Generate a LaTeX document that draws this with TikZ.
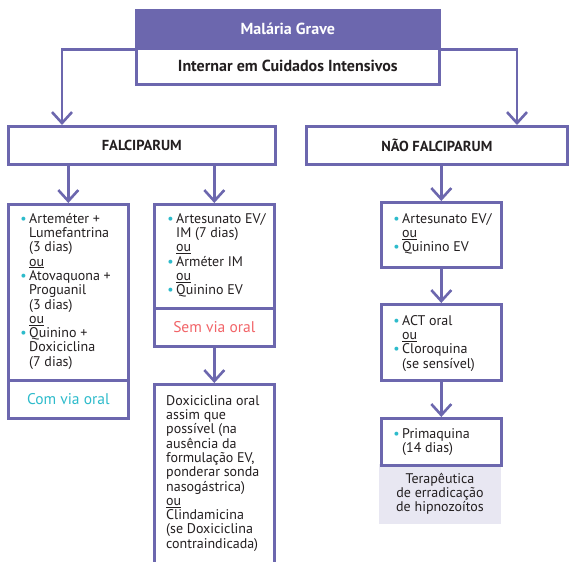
\documentclass[tikz,border=0pt]{standalone}
\usepackage{fontspec}
\setmainfont{PT Sans}
\usetikzlibrary{arrows.meta}

\definecolor{flowpurple}{HTML}{6C67AE}
\definecolor{flowteal}{HTML}{2DBBCB}
\definecolor{flowred}{HTML}{F26468}
\definecolor{flowink}{HTML}{231F20}
\definecolor{flowmist}{HTML}{E8E7F2}

% teal bullet hanging to the left of an item
\newcommand\itembul{\llap{\textcolor{flowteal}{\textbullet}\hspace{2.5pt}}}
\newcommand\orword{\underline{ou}}
% fixed height of the first line, so the node top sits 11pt above its baseline
\newcommand\topstrut{\rule{0pt}{11pt}}

\tikzset{
  box/.style={draw=flowpurple, line width=2.6pt, rectangle, inner sep=0pt, anchor=north west},
  flow/.style={draw=flowpurple, line width=2.6pt,
    -{Straight Barb[length=11pt,width=20pt,line width=2.6pt]}},
  txt/.style={inner sep=0pt, align=left, anchor=north west, text=flowink,
    font=\fontsize{14}{14.3}\selectfont},
  ctxt/.style={inner sep=0pt, align=center, text=flowink,
    font=\fontsize{15.5}{16}\selectfont},
  notestyle/.style={inner sep=0pt, align=center, anchor=north, text=flowink,
    font=\fontsize{14}{14.3}\selectfont},
  head/.style={inner sep=0pt, font=\fontsize{16}{17}\selectfont\bfseries, text=flowink},
  subhead/.style={inner sep=0pt, font=\fontsize{14.5}{16}\selectfont\bfseries, text=flowink},
}

\begin{document}
\begin{tikzpicture}[x=1pt, y=-1pt]
\clip (0,0) rectangle (569,561);
\fill[white] (0,0) rectangle (569,561);

% header
\node[box, fill=flowpurple, minimum width=303pt, minimum height=38pt] (hdr) at (135,9) {};
\node[head, text=white] (hdrtxt) at (hdr.center) {Malária Grave};
\node[box, fill=white, minimum width=303pt, minimum height=36pt] (icu) at (135,47) {};
\node[head] (icutxt) at (icu.center) {Internar em Cuidados Intensivos};

% species
\node[box, minimum width=267pt, minimum height=38pt] (falc) at (7,125) {};
\node[subhead] (falctxt) at (falc.center) {FALCIPARUM};
\node[box, minimum width=261pt, minimum height=38pt] (nfalc) at (305,125) {};
\node[subhead] (nfalctxt) at (nfalc.center) {NÃO FALCIPARUM};

\coordinate (falcin) at (62,125);
\coordinate (nfalcin) at (517,125);
\draw[flow] (hdr.south west) -| (falcin);
\draw[flow] (hdr.south east) -| (nfalcin);

% falciparum, oral route
\node[box, minimum width=120pt, minimum height=176pt] (lmain) at (7,203) {};
\node[box, minimum width=120pt, minimum height=38pt] (lfoot) at (7,379) {};
\node[txt] (ltxt) at (29,212) {\topstrut\itembul Arteméter +\\Lumefantrina\\(3 dias)\\\orword\\
  \itembul Atovaquona +\\Proguanil\\(3 dias)\\\orword\\
  \itembul Quinino +\\Doxiciclina\\(7 dias)};
\node[ctxt, text=flowteal] (lfoottxt) at (lfoot.center) {Com via oral};

% falciparum, no oral route
\node[box, minimum width=120pt, minimum height=104pt] (mmain) at (153,203) {};
\node[box, minimum width=120pt, minimum height=38pt] (mfoot) at (153,307) {};
\node[txt] (mtxt) at (176,212) {\topstrut\itembul Artesunato EV/\\IM (7 dias)\\\orword\\
  \itembul Arméter IM\\\orword\\\itembul Quinino EV};
\node[ctxt, text=flowred] (mfoottxt) at (mfoot.center) {Sem via oral};

\node[box, minimum width=120pt, minimum height=200pt] (doxy) at (153,383) {};
\node[txt] (doxytxt) at (166,394) {\topstrut Doxiciclina oral\\assim que\\possível (na\\ausência da\\
  formulação EV,\\ponderar sonda\\nasogástrica)\\\orword\\Clindamicina\\
  (se Doxiciclina\\contraindicada)};

\draw[flow] (falc.south -| lmain.north) -- (lmain.north);
\draw[flow] (falc.south -| mmain.north) -- (mmain.north);
\draw[flow] (mfoot.south) -- (doxy.north);

% non-falciparum
\node[box, minimum width=120pt, minimum height=65pt] (r1) at (380,201) {};
\node[txt] (r1txt) at (402,212) {\topstrut\itembul Artesunato EV/\\\orword\\\itembul Quinino EV};
\node[box, minimum width=120pt, minimum height=76pt] (r2) at (380,303) {};
\node[txt] (r2txt) at (402,314) {\topstrut\itembul ACT oral\\\orword\\\itembul Cloroquina\\(se sensível)};
\node[fill=flowmist, inner sep=0pt, anchor=north west, minimum width=122pt, minimum height=60pt] (r3note) at (379,464) {};
\node[box, fill=white, minimum width=120pt, minimum height=47pt] (r3) at (380,417) {};
\node[txt] (r3txt) at (402,427) {\topstrut\itembul Primaquina\\(14 dias)};
\node[notestyle] (notetxt) at (440,472) {\topstrut Terapêutica\\de erradicação\\de hipnozoítos};

\draw[flow] (nfalc.south -| r1.north) -- (r1.north);
\draw[flow] (r1.south) -- (r2.north);
\draw[flow] (r2.south) -- (r3.north);
\end{tikzpicture}
\end{document}
